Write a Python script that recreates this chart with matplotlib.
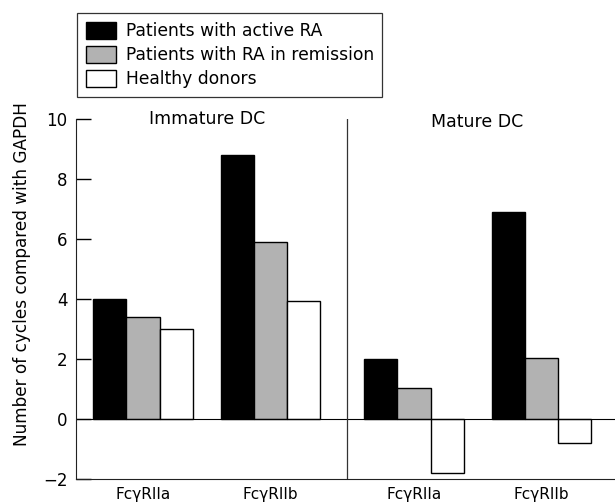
import numpy as np
import matplotlib.pyplot as plt

# values (cycles compared with GAPDH)
groups = ["FcγRIIa", "FcγRIIb", "FcγRIIa", "FcγRIIb"]
active_ra = [4.0, 8.8, 2.0, 6.9]
remission_ra = [3.4, 5.9, 1.05, 2.05]
healthy = [3.0, 3.95, -1.8, -0.8]
series_names = ["Patients with active RA", "Patients with RA in remission", "Healthy donors"]
panel_titles = ["Immature DC", "Mature DC"]
yticks = [-2, 0, 2, 4, 6, 8, 10]

plt.rcParams['font.family'] = ['DejaVu Sans']

fig = plt.figure(figsize=(6.15, 5.03), dpi=100)
ax = fig.add_axes([76 / 615, 24 / 503, 539 / 615, 360 / 503])

x = np.array([0, 1, 2.125, 3.125])
w = 0.26
colors = ["black", "#b2b2b2", "white"]
for i, (vals, name) in enumerate(zip([active_ra, remission_ra, healthy], series_names)):
    ax.bar(x + (i - 1) * w, vals, w, color=colors[i], edgecolor="black",
           linewidth=1.0, label=name)

ax.set_xlim(-0.525, 3.70)
ax.set_ylim(-2, 10)
ax.axhline(0, color="black", lw=0.8)
ax.axvline(1.6, color="#333333", lw=0.9)

ax.spines["top"].set_visible(False)
ax.spines["right"].set_visible(False)
ax.spines["left"].set_color("#222222")
ax.spines["bottom"].set_color("#222222")

ax.set_yticks(yticks)
ax.set_yticklabels([str(t).replace("-", "\u2212") for t in yticks], fontsize=12)
ax.tick_params(axis="y", direction="in", length=11, width=1, pad=6)
ax.set_xticks(x)
ax.set_xticklabels(groups, fontsize=11)
ax.tick_params(axis="x", length=0, pad=6)
ax.set_ylabel("Number of cycles compared with GAPDH", fontsize=12.2)
ax.yaxis.set_label_coords(-0.083, 0.568)

ax.text(0.5, 10, panel_titles[0], ha="center", va="center", fontsize=12.5)
ax.text(2.62, 9.9, panel_titles[1], ha="center", va="center", fontsize=12.5)

leg = fig.legend(loc="upper left", bbox_to_anchor=(77 / 615, 1 - 13 / 503),
                 fontsize=12.3, frameon=True, fancybox=False, edgecolor="black",
                 handlelength=1.8, handleheight=1.2, handletextpad=0.55,
                 labelspacing=0.33, borderpad=0.5, borderaxespad=0)
leg.get_frame().set_linewidth(0.9)

fig.savefig("out.png", dpi=100)
